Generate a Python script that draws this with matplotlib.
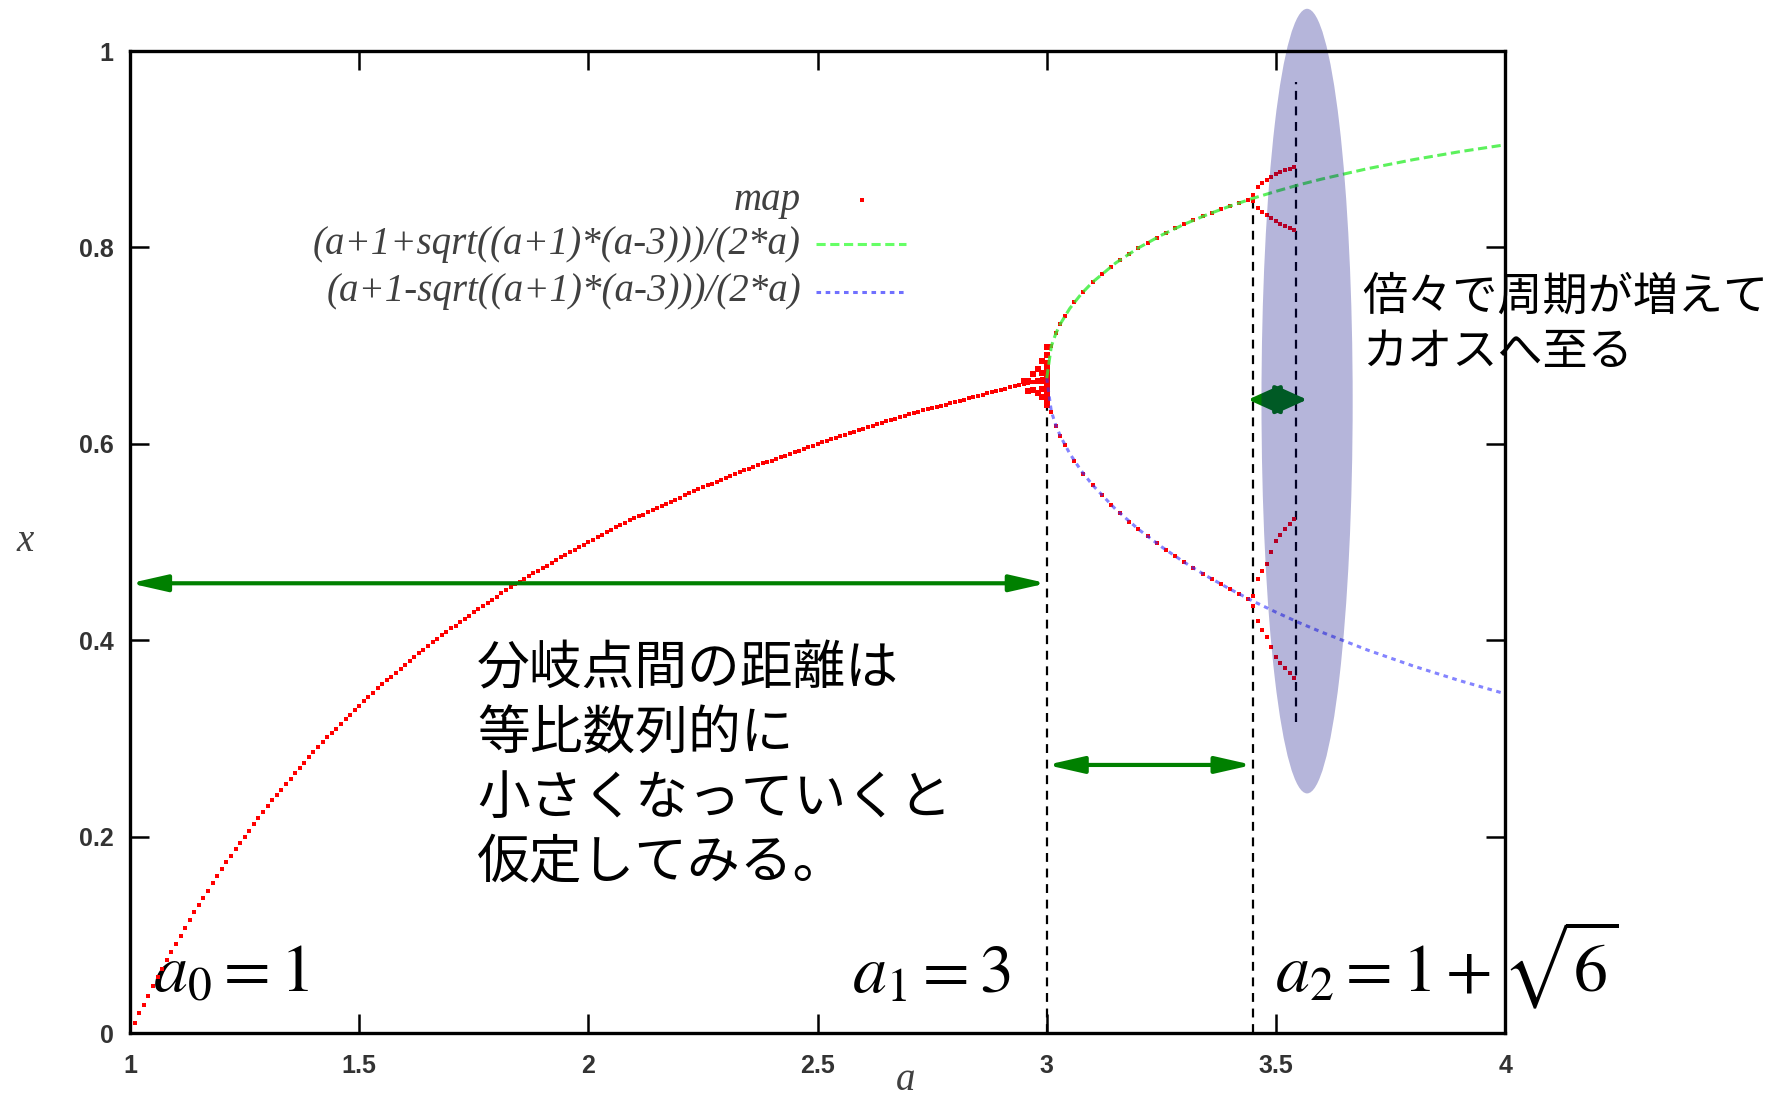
import numpy as np
import matplotlib
matplotlib.use('Agg')
import matplotlib.pyplot as plt
from matplotlib.patches import Ellipse

plt.rcParams['mathtext.fontset'] = 'stix'

# stable fixed point of the map, gnuplot sampled a every 0.01 from 1 to 3
map_a = np.linspace(1.0, 3.0, 201)
map_x = [
    0.000, 0.010, 0.020, 0.029, 0.038, 0.048, 0.057, 0.065, 0.074, 0.083,
    0.091, 0.099, 0.107, 0.115, 0.123, 0.130, 0.138, 0.145, 0.153, 0.160,
    0.167, 0.174, 0.180, 0.187, 0.194, 0.200, 0.206, 0.213, 0.219, 0.225,
    0.231, 0.237, 0.242, 0.248, 0.254, 0.259, 0.265, 0.270, 0.275, 0.281,
    0.286, 0.291, 0.296, 0.301, 0.306, 0.310, 0.315, 0.320, 0.324, 0.329,
    0.333, 0.338, 0.342, 0.346, 0.351, 0.355, 0.359, 0.363, 0.367, 0.371,
    0.375, 0.379, 0.383, 0.387, 0.390, 0.394, 0.398, 0.401, 0.405, 0.408,
    0.412, 0.415, 0.419, 0.422, 0.425, 0.429, 0.432, 0.435, 0.438, 0.441,
    0.444, 0.448, 0.451, 0.454, 0.457, 0.459, 0.462, 0.465, 0.468, 0.471,
    0.474, 0.476, 0.479, 0.482, 0.485, 0.487, 0.490, 0.492, 0.495, 0.497,
    0.500, 0.502, 0.505, 0.507, 0.510, 0.512, 0.515, 0.517, 0.519, 0.522,
    0.524, 0.526, 0.528, 0.531, 0.533, 0.535, 0.537, 0.539, 0.541, 0.543,
    0.545, 0.548, 0.550, 0.552, 0.554, 0.556, 0.558, 0.559, 0.561, 0.563,
    0.565, 0.567, 0.569, 0.571, 0.573, 0.574, 0.576, 0.578, 0.580, 0.582,
    0.583, 0.585, 0.587, 0.588, 0.590, 0.592, 0.593, 0.595, 0.597, 0.598,
    0.600, 0.602, 0.603, 0.605, 0.606, 0.608, 0.609, 0.611, 0.612, 0.614,
    0.615, 0.617, 0.618, 0.620, 0.621, 0.623, 0.624, 0.625, 0.627, 0.628,
    0.630, 0.631, 0.632, 0.634, 0.635, 0.636, 0.638, 0.639, 0.640, 0.642,
    0.643, 0.644, 0.645, 0.647, 0.648, 0.649, 0.650, 0.652, 0.653, 0.654,
    0.655, 0.656, 0.658, 0.659, 0.660, 0.661, 0.662, 0.663, 0.664, 0.666,
    0.667,
]

# points that had not settled yet, right at the first bifurcation
spike_a = [2.95, 2.96, 2.96, 2.97, 2.97, 2.98, 2.98, 2.98, 2.99, 2.99, 2.99, 2.99,
           2.99, 3.00, 3.00, 3.00, 3.00, 3.00, 3.00, 3.00, 3.00, 3.00, 3.00]
spike_x = [0.664, 0.654, 0.664, 0.655, 0.671, 0.652, 0.664, 0.676, 0.648, 0.656,
           0.664, 0.672, 0.684, 0.640, 0.646, 0.652, 0.658, 0.664, 0.670, 0.676,
           0.682, 0.690, 0.699]

# period-2 part of the map
p2_a = [3.01, 3.02, 3.03, 3.04, 3.06, 3.08, 3.10, 3.12, 3.14, 3.16, 3.18, 3.20,
        3.22, 3.24, 3.26, 3.28, 3.30, 3.32, 3.34, 3.36, 3.38, 3.40, 3.42, 3.44]
p2_hi = [0.6994, 0.7125, 0.7224, 0.7306, 0.7440, 0.7551, 0.7646, 0.7729,
         0.7805, 0.7873, 0.7936, 0.7995, 0.8049, 0.8100, 0.8148, 0.8193,
         0.8236, 0.8277, 0.8316, 0.8352, 0.8388, 0.8421, 0.8454, 0.8485]
p2_lo = [0.6329, 0.6186, 0.6076, 0.5984, 0.5828, 0.5696, 0.5580, 0.5476,
         0.5380, 0.5291, 0.5208, 0.5130, 0.5057, 0.4986, 0.4920, 0.4856,
         0.4794, 0.4735, 0.4679, 0.4624, 0.4571, 0.4520, 0.4470, 0.4422]

# period-4 part of the map (four branches)
p4_a = [3.45, 3.46, 3.47, 3.48, 3.49, 3.50, 3.51, 3.52, 3.53, 3.54]
p4_1 = [0.853, 0.862, 0.866, 0.869, 0.872, 0.875, 0.877, 0.879, 0.880, 0.882]
p4_2 = [0.847, 0.840, 0.836, 0.833, 0.830, 0.827, 0.824, 0.822, 0.820, 0.818]
p4_3 = [0.445, 0.462, 0.470, 0.478, 0.490, 0.501, 0.507, 0.513, 0.518, 0.523]
p4_4 = [0.435, 0.420, 0.410, 0.403, 0.393, 0.383, 0.377, 0.372, 0.367, 0.362]

# the two curves named in the legend
curve_a = [3.00, 3.01, 3.02, 3.03, 3.05, 3.075, 3.10, 3.15, 3.20, 3.25, 3.30,
           3.35, 3.40, 3.45, 3.50, 3.55, 3.60, 3.70, 3.80, 3.90, 4.00]
curve_hi = [0.6667, 0.6994, 0.7125, 0.7224, 0.7377, 0.7525, 0.7646, 0.7840,
            0.7995, 0.8124, 0.8236, 0.8334, 0.8421, 0.8500, 0.8571, 0.8637,
            0.8696, 0.8802, 0.8894, 0.8974, 0.9045]
curve_lo = [0.6667, 0.6329, 0.6186, 0.6076, 0.5902, 0.5727, 0.5580, 0.5335,
            0.5130, 0.4953, 0.4794, 0.4651, 0.4520, 0.4398, 0.4286, 0.4180,
            0.4082, 0.3900, 0.3737, 0.3590, 0.3455]

legend_labels = ['map', '(a+1+sqrt((a+1)*(a-3)))/(2*a)',
                 '(a+1-sqrt((a+1)*(a-3)))/(2*a)']

# bifurcation points a0, a1, a2 and the next one
a0, a1, a2, a3 = 1.0, 3.0, 3.449, 3.544
x_a1, x_a2 = 0.667, 0.850
x_a3_top, x_a3_bot = 0.968, 0.317

xticks = [1, 1.5, 2, 2.5, 3, 3.5, 4]
xticklabels = ['1', '1.5', '2', '2.5', '3', '3.5', '4']
yticks = [0, 0.2, 0.4, 0.6, 0.8, 1]
yticklabels = ['0', '0.2', '0.4', '0.6', '0.8', '1']

note_left = '分岐点間の距離は\n等比数列的に\n小さくなっていくと\n仮定してみる。'
note_right = '倍々で周期が増えて\nカオスへ至る'

RED = '#ff0000'
GREEN = '#008000'

fig = plt.figure(figsize=(17.82, 10.97), dpi=100)
ax = fig.add_axes([0.0730, 0.0583, 0.7716, 0.8952])
ax.set_xlim(1, 4)
ax.set_ylim(0, 1)

# map points
ms = 3.3
ax.plot(map_a, map_x, 's', color=RED, ms=ms, mew=0, zorder=3)
ax.plot(spike_a, spike_x, 's', color=RED, ms=ms + 0.6, mew=0, zorder=3)
ax.plot(p2_a, p2_hi, 's', color=RED, ms=ms, mew=0, zorder=3)
ax.plot(p2_a, p2_lo, 's', color=RED, ms=ms, mew=0, zorder=3)
for branch in (p4_1, p4_2, p4_3, p4_4):
    ax.plot(p4_a, branch, 's', color=RED, ms=ms, mew=0, zorder=3)

# fixed point curves
ax.plot(curve_a, curve_hi, color='#33ee33', lw=2.2, ls=(0, (3, 1.5)),
        alpha=0.8, zorder=4)
ax.plot(curve_a, curve_lo, color='#3333ff', lw=2.2, ls=(0, (1.5, 1.5)),
        alpha=0.6, zorder=4)

# dashed guides at the bifurcations
dash = dict(color='black', lw=1.6, ls=(0, (4, 3)), zorder=2)
ax.plot([a1, a1], [0, x_a1], **dash)
ax.plot([a2, a2], [0, x_a2], **dash)
ax.plot([a3, a3], [x_a3_bot, x_a3_top], **dash)

# distance arrows
def arrow(xa, xb, y, hw=0.25, hl=1.1):
    ax.annotate('', xy=(xb, y), xytext=(xa, y),
                arrowprops=dict(arrowstyle='<|-|>,head_length=%g,head_width=%g' % (hl, hw),
                                color=GREEN, lw=3, shrinkA=0, shrinkB=0,
                                mutation_scale=20),
                annotation_clip=False, zorder=5)

arrow(a0, a1, 0.458)
arrow(a1, a2, 0.273)
arrow(3.439, 3.568, 0.645, hw=0.45, hl=1.0)

# shaded region around the period-4 window
ax.add_patch(Ellipse((3.568, 0.6435), 0.199, 0.799, facecolor='#000080',
                     edgecolor='none', alpha=0.29, clip_on=False, zorder=6))

# legend, gnuplot style (text right aligned, sample on the right)
leg_y = [0.848, 0.803, 0.755]
for lab, yy in zip(legend_labels, leg_y):
    ax.text(0.488, yy, lab, transform=ax.transAxes, ha='right', va='center',
            fontsize=28, fontstyle='italic', family='Liberation Serif',
            color='#404040')
ax.plot([0.532], [leg_y[0]], 's', color=RED, ms=ms, mew=0, transform=ax.transAxes)
ax.plot([0.499, 0.564], [leg_y[1]] * 2, color='#66ff66', lw=2.2,
        ls=(0, (3, 1.5)), transform=ax.transAxes)
ax.plot([0.499, 0.564], [leg_y[2]] * 2, color='#3333ff', lw=2.2,
        ls=(0, (1.5, 1.5)), alpha=0.7, transform=ax.transAxes)

# annotations
ax.text(1.05, 0.042, r'$a_0=1$', fontsize=49, va='baseline', ha='left', zorder=2)
ax.text(2.575, 0.042, r'$a_1=3$', fontsize=49, va='baseline', ha='left', zorder=2)
ax.text(3.498, 0.042, r'$a_2=1+\sqrt{6}$', fontsize=49, va='baseline', ha='left',
        clip_on=False, zorder=2)

ax.text(1.757, 0.272, note_left, fontsize=38, family='Noto Sans CJK JP',
        va='center', ha='left', linespacing=1.22, zorder=2)
ax.text(3.688, 0.722, note_right, fontsize=32.5, family='Noto Sans CJK JP',
        va='center', ha='left', linespacing=1.25, clip_on=False, zorder=2)

# axes styling
for sp in ax.spines.values():
    sp.set_linewidth(2.4)
    sp.set_zorder(7)
ax.set_xticks(xticks)
ax.set_xticklabels(xticklabels)
ax.set_yticks(yticks)
ax.set_yticklabels(yticklabels)
ax.tick_params(direction='in', length=14, width=1.8, top=True, right=True,
               labelsize=18, labelcolor='#333333')
ax.tick_params(axis='x', pad=15)
ax.tick_params(axis='y', pad=12)
for lab in ax.get_xticklabels() + ax.get_yticklabels():
    lab.set_family('Liberation Sans')
    lab.set_fontweight('bold')

ax.text(0.564, -0.048, 'a', transform=ax.transAxes, ha='center', va='center',
        fontsize=28, fontstyle='italic', family='Liberation Serif', color='#404040')
ax.text(-0.0764, 0.501, 'x', transform=ax.transAxes, ha='center', va='center',
        fontsize=28, fontstyle='italic', family='Liberation Serif', color='#404040')

fig.savefig('out.png', dpi=100)
